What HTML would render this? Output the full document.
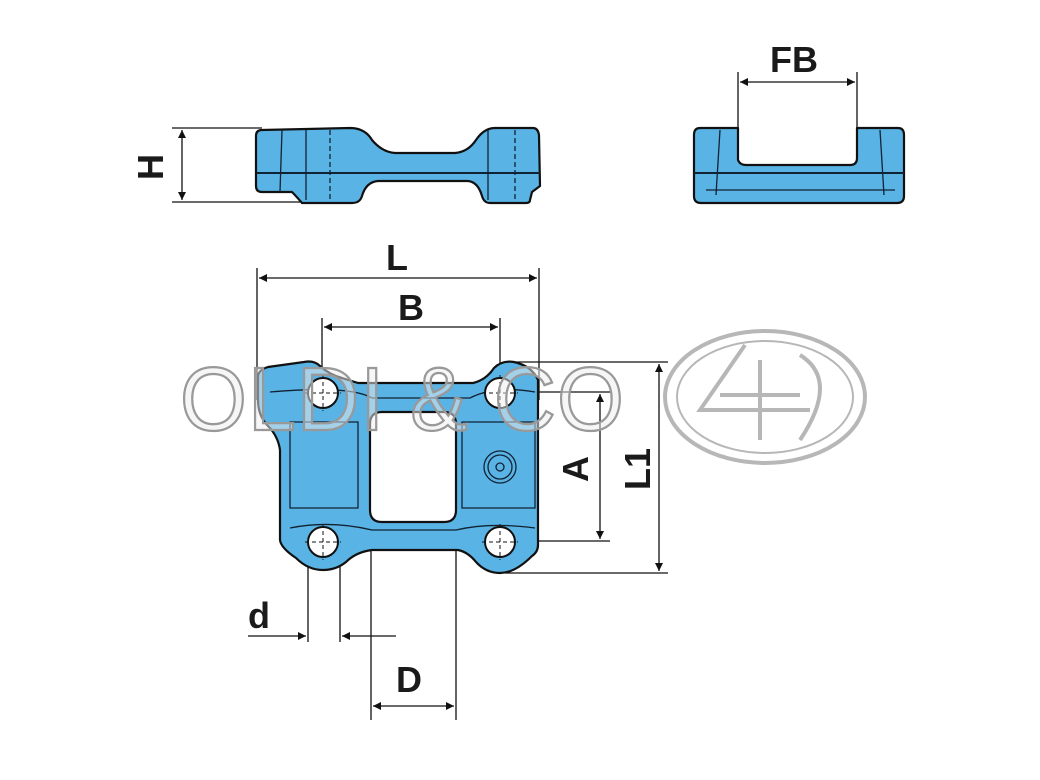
<!DOCTYPE html>
<html><head><style>body{margin:0;background:#fff}svg{display:block}text{font-family:"Liberation Sans",sans-serif;font-size:36px;fill:#1a1a1a;font-weight:bold}</style></head>
<body>
<svg width="1040" height="780" viewBox="0 0 1040 780" xmlns="http://www.w3.org/2000/svg">
<defs>
<marker id="a" viewBox="0 0 10 10" refX="10" refY="5" markerWidth="12" markerHeight="8" orient="auto-start-reverse" markerUnits="userSpaceOnUse"><path d="M0,0 L10,5 L0,10z" fill="#111"/></marker>
</defs>
<g stroke="#111" stroke-width="1.3" fill="none">
<line x1="172" y1="128" x2="262" y2="128"/><line x1="172" y1="202" x2="300" y2="202"/>
<line x1="182" y1="130" x2="182" y2="200" marker-start="url(#a)" marker-end="url(#a)"/>
<line x1="738" y1="72" x2="738" y2="160"/><line x1="857" y1="72" x2="857" y2="160"/>
<line x1="740" y1="82" x2="855" y2="82" marker-start="url(#a)" marker-end="url(#a)"/>
<line x1="257" y1="268" x2="257" y2="400"/><line x1="539" y1="268" x2="539" y2="400"/>
<line x1="259" y1="278" x2="537" y2="278" marker-start="url(#a)" marker-end="url(#a)"/>
<line x1="322" y1="318" x2="322" y2="395"/><line x1="500" y1="318" x2="500" y2="395"/>
<line x1="324" y1="327" x2="498" y2="327" marker-start="url(#a)" marker-end="url(#a)"/>
<line x1="500" y1="392" x2="610" y2="392"/><line x1="500" y1="541" x2="610" y2="541"/>
<line x1="600" y1="394" x2="600" y2="539" marker-start="url(#a)" marker-end="url(#a)"/>
<line x1="505" y1="362" x2="668" y2="362"/><line x1="505" y1="573" x2="668" y2="573"/>
<line x1="659" y1="364" x2="659" y2="571" marker-start="url(#a)" marker-end="url(#a)"/>
<line x1="308" y1="545" x2="308" y2="642"/><line x1="340" y1="545" x2="340" y2="642"/>
<line x1="248" y1="636" x2="306" y2="636" marker-end="url(#a)"/>
<line x1="396" y1="636" x2="342" y2="636" marker-end="url(#a)"/>
<line x1="371" y1="545" x2="371" y2="720"/><line x1="456" y1="545" x2="456" y2="720"/>
<line x1="373" y1="706" x2="454" y2="706" marker-start="url(#a)" marker-end="url(#a)"/>
</g>
<text x="0" y="0" transform="translate(163,180) rotate(-90)">H</text>
<text x="770" y="72">FB</text>
<text x="386" y="270">L</text>
<text x="398" y="320">B</text>
<text x="248" y="628">d</text>
<text x="396" y="692">D</text>
<text x="0" y="0" transform="translate(588,482) rotate(-90)">A</text>
<text x="0" y="0" transform="translate(650,490) rotate(-90)">L1</text>

<g stroke="#111" stroke-width="2.2" fill="#5ab3e5" stroke-linejoin="round">
<path d="M262,130 L350,128 Q365,128 372,140 Q382,152 395,153 L455,153 Q468,152 476,140 Q484,128 495,128 L533,128 Q538,128 539,135 L540,186 L532,192 L530,200 Q530,203 526,203 L490,203 Q484,203 482,196 Q478,182 468,181 L378,181 Q366,182 362,196 Q360,203 352,203 L302,203 Q296,196 292,192 L262,192 Q256,192 256,186 L256,136 Q256,130 262,130Z"/>
<path d="M700,128 L738,128 L738,160 Q740,165 746,165 L850,165 Q857,165 857,158 L857,128 L898,128 Q904,128 904,135 L904,196 Q904,203 897,203 L701,203 Q694,203 694,196 L694,135 Q694,128 700,128Z"/>
<path d="M258,377 Q258,370 268,367 L304,362 Q314,360 320,366 Q330,375 342,378 L358,383 L473,383 Q486,380 494,368 Q502,360 514,362 Q532,366 538,380 L538,545 Q538,552 532,556 Q515,573 500,573 Q486,573 476,562 Q468,552 458,550 L372,550 Q356,552 346,562 Q336,570 323,570 Q308,570 296,558 Q281,548 280,540 L280,450 Q278,436 268,426 Q258,416 258,400Z"/>
</g>
<g stroke="#123" stroke-width="1.3" fill="none">
<line x1="257" y1="173" x2="540" y2="173" stroke-width="2"/>
<line x1="694" y1="173" x2="904" y2="173" stroke-width="2"/>
<line x1="282" y1="130" x2="280" y2="192"/><line x1="306" y1="130" x2="306" y2="200"/><line x1="330" y1="130" x2="330" y2="200" stroke-dasharray="5,3"/>
<line x1="488" y1="130" x2="488" y2="200"/><line x1="515" y1="130" x2="515" y2="200" stroke-dasharray="5,3"/>
<line x1="706" y1="190" x2="895" y2="190"/><line x1="720" y1="130" x2="716" y2="195"/><line x1="880" y1="130" x2="884" y2="195"/>
<path d="M290,422 L358,422 L358,508 L290,508 Z"/><path d="M462,422 L535,422 L535,508 L462,508Z"/>
<path d="M270,392 Q350,385 372,398 L470,398 Q495,385 535,392"/>
<path d="M290,528 Q330,520 372,530 L456,530 Q490,522 535,528"/>
<circle cx="500" cy="467" r="16"/><circle cx="500" cy="467" r="12"/><circle cx="500" cy="467" r="4"/>
</g>
<path d="M382,412 L444,412 Q456,412 456,424 L456,510 Q456,522 444,522 L382,522 Q370,522 370,510 L370,424 Q370,412 382,412Z" fill="#fff" stroke="#111" stroke-width="2.2"/>
<g fill="#fff" stroke="#111" stroke-width="2">
<circle cx="323" cy="393" r="15"/><circle cx="500" cy="393" r="15"/>
<circle cx="323" cy="542" r="15"/><circle cx="500" cy="542" r="15"/>
</g>
<g stroke="#111" stroke-width="1" stroke-dasharray="4,3">
<line x1="305" y1="393" x2="341" y2="393"/><line x1="323" y1="375" x2="323" y2="411"/>
<line x1="482" y1="393" x2="518" y2="393"/><line x1="500" y1="375" x2="500" y2="411"/>
<line x1="305" y1="542" x2="341" y2="542"/><line x1="323" y1="524" x2="323" y2="560"/>
<line x1="482" y1="542" x2="518" y2="542"/><line x1="500" y1="524" x2="500" y2="560"/>
</g>
<text x="0" y="0" transform="translate(180,430) scale(1,1.15)" style="font-size:78px;font-weight:normal;fill:#eee;fill-opacity:.5;stroke:#999;stroke-width:2;letter-spacing:1px" textLength="445" lengthAdjust="spacingAndGlyphs">OLDI &amp; CO</text>
<g fill="none" stroke="#aaa" stroke-opacity="0.85">
<ellipse cx="765" cy="397" rx="100" ry="66" stroke-width="4"/>
<ellipse cx="765" cy="397" rx="88" ry="56" stroke-width="2"/>
<path d="M745,345 L700,410 L810,410 M760,360 L760,440 M720,395 L800,395 M800,355 Q840,380 800,440" stroke-width="4"/>
</g>
</svg>
</body></html>
